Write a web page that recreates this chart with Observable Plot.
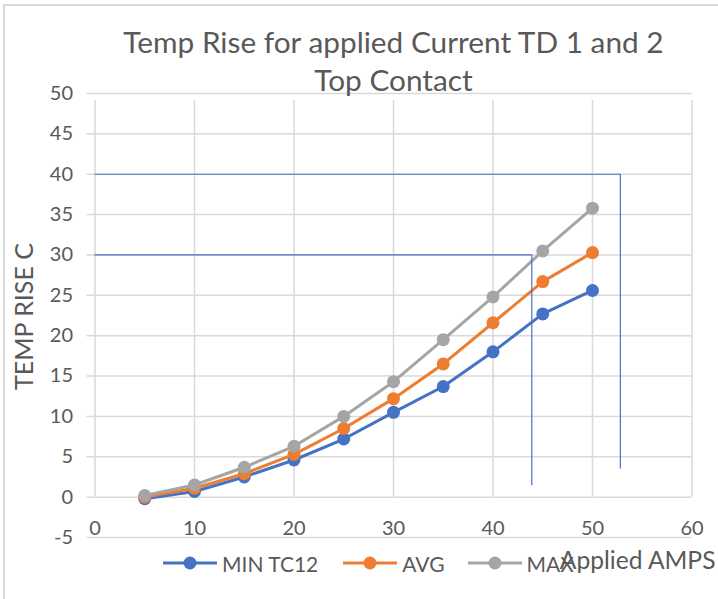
<!DOCTYPE html>
<html>
<head>
<meta charset="utf-8">
<script src="https://cdn.jsdelivr.net/npm/d3@7"></script>
<script src="https://cdn.jsdelivr.net/npm/@observablehq/plot@0.6"></script>
<style>
  html, body { margin: 0; padding: 0; background: #fff; }
  #wrap { position: relative; width: 718px; height: 599px; overflow: hidden; font-family: Lato, "Open Sans", sans-serif; color: #595959; }
  #border { position: absolute; left: 3px; top: 4px; width: 900px; height: 900px; border-left: 2px solid #D9D9D9; border-top: 2px solid #D9D9D9; }
  #chart { position: absolute; left: 0; top: 0; }
  #legend { position: absolute; left: 163px; top: 549px; height: 28px; display: flex; align-items: center; font-size: 21px; white-space: nowrap; }
  .item { display: flex; align-items: center; margin-right: 0; }
  .item svg { display: block; margin-right: 5px; }
</style>
</head>
<body>
<div id="wrap">
  <div id="border"></div>
  <div id="chart"></div>
  <div id="legend"></div>
</div>
<script>
// ---- data ----
const amps = [5, 10, 15, 20, 25, 30, 35, 40, 45, 50];
const minTC12 = [-0.2, 0.7, 2.5, 4.6, 7.2, 10.5, 13.7, 18.0, 22.7, 25.6];
const avgRise = [0.0, 1.1, 2.9, 5.3, 8.5, 12.2, 16.5, 21.6, 26.7, 30.3];
const maxRise = [0.2, 1.5, 3.7, 6.3, 10.0, 14.3, 19.5, 24.8, 30.5, 35.8];
const seriesNames = ["MIN TC12", "AVG", "MAX"];
const seriesColors = ["#4472C4", "#ED7D31", "#A5A5A5"];
const xTicks = [0, 10, 20, 30, 40, 50, 60];
const yTicks = [-5, 0, 5, 10, 15, 20, 25, 30, 35, 40, 45, 50];
const titleLines = ["Temp Rise for applied Current TD 1 and 2", "Top Contact"];
const yLabel = "TEMP RISE C";
const xLabel = "Applied AMPS";
// hand-drawn guide lines
const guideH = [{y: 40, x1: 0, x2: 52.8}, {y: 30, x1: 0, x2: 43.9}];
const guideV = [{x: 52.8, y1: 40, y2: 3.5}, {x: 43.9, y1: 30, y2: 1.4}];

const seriesValues = [minTC12, avgRise, maxRise];
const rows = seriesNames.map((name, i) => amps.map((a, j) => ({series: name, amps: a, rise: seriesValues[i][j]})));

const font = 'Lato, "Open Sans", sans-serif';
const grid = "#D9D9D9";
const textColor = "#595959";

const marks = [
  // horizontal gridlines with outside tick
  Plot.ruleY(yTicks, {y: d => d, x1: xTicks[0], x2: xTicks[xTicks.length - 1], insetLeft: -8, stroke: grid, strokeWidth: 1.5}),
  // vertical gridlines (from y=0 upward, with small tick below axis)
  Plot.ruleX(xTicks, {x: d => d, y1: 0, y2: yTicks[yTicks.length - 1], insetBottom: -7, stroke: grid, strokeWidth: 1.5}),
  // y tick labels
  Plot.text(yTicks, {x: xTicks[0], y: d => d, text: d => String(d), textAnchor: "end", dx: -22, fontSize: 20, fill: textColor}),
  // x tick labels
  Plot.text(xTicks, {x: d => d, y: yTicks[0], text: d => String(d), dy: -9, fontSize: 20, fill: textColor}),
  // y axis title
  Plot.text([yLabel], {frameAnchor: "left", text: d => d, rotate: -90, textAnchor: "middle", lineAnchor: "middle", dx: -70, dy: 1, fontSize: 25, fill: textColor}),
  // title
  Plot.text([titleLines[0]], {frameAnchor: "top", text: d => d, lineAnchor: "middle", dy: -50, fontSize: 29.8, fill: textColor}),
  Plot.text([titleLines[1]], {frameAnchor: "top", text: d => d, lineAnchor: "middle", dy: -12, fontSize: 29.8, fill: textColor}),
];
rows.forEach((data, i) => {
  marks.push(Plot.line(data, {x: "amps", y: "rise", stroke: seriesColors[i], strokeWidth: 3}));
  marks.push(Plot.dot(data, {x: "amps", y: "rise", fill: seriesColors[i], r: 6.5}));
});
marks.push(
  Plot.ruleY(guideH, {y: "y", x1: "x1", x2: "x2", stroke: "#4472C4", strokeWidth: 1.2}),
  Plot.ruleX(guideV, {x: "x", y1: "y1", y2: "y2", stroke: "#4472C4", strokeWidth: 1.2}),
  Plot.text([xLabel], {frameAnchor: "bottom-right", text: d => d, textAnchor: "end", lineAnchor: "bottom", dx: 23.5, dy: 31, fontSize: 24.6, fill: textColor})
);

const chart = Plot.plot({
  width: 718,
  height: 599,
  marginTop: 93,
  marginBottom: 62,
  marginLeft: 94.5,
  marginRight: 26.5,
  x: {domain: [0, 60], axis: null},
  y: {domain: [-5, 50], axis: null},
  style: {fontFamily: font, background: "transparent", overflow: "visible", color: textColor},
  marks
});
document.getElementById("chart").appendChild(chart);

// legend
const legend = document.getElementById("legend");
const gaps = [0, 25, 23];
seriesNames.forEach((name, i) => {
  const item = document.createElement("div");
  item.className = "item";
  item.style.marginLeft = gaps[i] + "px";
  item.innerHTML = `<svg width="54" height="16"><line x1="0" y1="8" x2="54" y2="8" stroke="${seriesColors[i]}" stroke-width="3"/><circle cx="27" cy="8" r="6.5" fill="${seriesColors[i]}"/></svg><span>${name}</span>`;
  legend.appendChild(item);
});
</script>
</body>
</html>
